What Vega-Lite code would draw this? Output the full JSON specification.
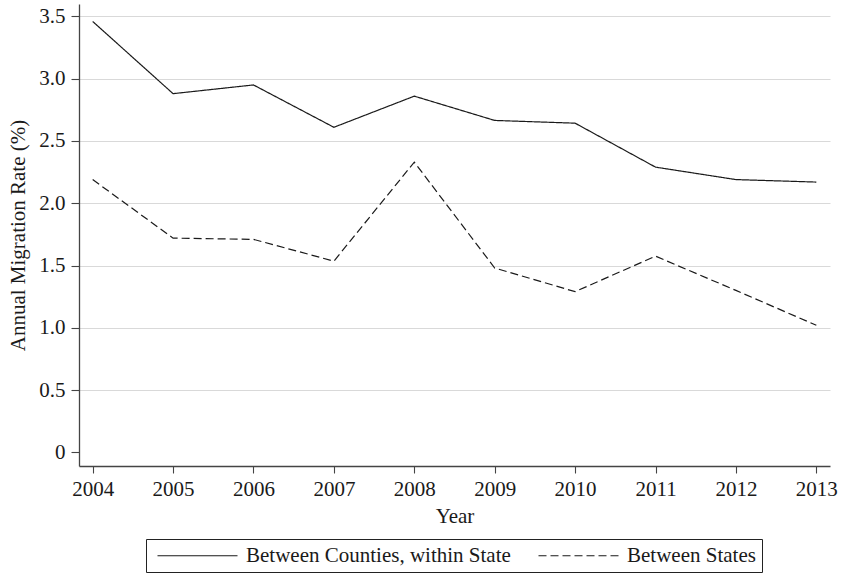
{
  "$schema": "https://vega.github.io/schema/vega-lite/v6.json",
  "width": 751,
  "height": 462,
  "autosize": {"type": "none"},
  "padding": {"left": 79, "top": 4, "right": 11, "bottom": 107},
  "background": "white",
  "config": {
    "view": {"stroke": null},
    "font": "Liberation Serif",
    "axis": {
      "labelFont": "Liberation Serif",
      "titleFont": "Liberation Serif",
      "labelFontSize": 21,
      "titleFontSize": 21,
      "titleFontWeight": "normal",
      "labelColor": "#1a1a1a",
      "titleColor": "#1a1a1a",
      "domainColor": "#444444",
      "tickColor": "#444444",
      "domainWidth": 1.3,
      "tickWidth": 1.1
    },
    "legend": {
      "labelFont": "Liberation Serif",
      "labelFontSize": 21,
      "labelColor": "#1a1a1a"
    }
  },
  "data": {
    "values": [
      {"year": 2004, "series": "Between Counties, within State", "rate": 3.46},
      {"year": 2005, "series": "Between Counties, within State", "rate": 2.88},
      {"year": 2006, "series": "Between Counties, within State", "rate": 2.95},
      {"year": 2007, "series": "Between Counties, within State", "rate": 2.61},
      {"year": 2008, "series": "Between Counties, within State", "rate": 2.86},
      {"year": 2009, "series": "Between Counties, within State", "rate": 2.665},
      {"year": 2010, "series": "Between Counties, within State", "rate": 2.643},
      {"year": 2011, "series": "Between Counties, within State", "rate": 2.29},
      {"year": 2012, "series": "Between Counties, within State", "rate": 2.19},
      {"year": 2013, "series": "Between Counties, within State", "rate": 2.17},
      {"year": 2004, "series": "Between States", "rate": 2.19},
      {"year": 2005, "series": "Between States", "rate": 1.72},
      {"year": 2006, "series": "Between States", "rate": 1.71},
      {"year": 2007, "series": "Between States", "rate": 1.535},
      {"year": 2008, "series": "Between States", "rate": 2.33},
      {"year": 2009, "series": "Between States", "rate": 1.48},
      {"year": 2010, "series": "Between States", "rate": 1.29},
      {"year": 2011, "series": "Between States", "rate": 1.575},
      {"year": 2012, "series": "Between States", "rate": 1.3},
      {"year": 2013, "series": "Between States", "rate": 1.02}
    ]
  },
  "mark": {"type": "line", "color": "#1a1a1a", "strokeWidth": 1.2},
  "encoding": {
    "x": {
      "field": "year",
      "type": "quantitative",
      "scale": {"domain": [2003.83, 2013.17], "nice": false, "zero": false},
      "axis": {
        "title": "Year",
        "values": [2004, 2005, 2006, 2007, 2008, 2009, 2010, 2011, 2012, 2013],
        "format": "d",
        "grid": false,
        "tickSize": 7,
        "labelPadding": 5,
        "titlePadding": 6,
        "labelFlush": false
      }
    },
    "y": {
      "field": "rate",
      "type": "quantitative",
      "scale": {"domain": [-0.11, 3.6], "nice": false, "zero": false},
      "axis": {
        "title": "Annual Migration Rate (%)",
        "values": [0, 0.5, 1, 1.5, 2, 2.5, 3, 3.5],
        "labelExpr": "datum.value == 0 ? '0' : format(datum.value, '.1f')",
        "grid": true,
        "gridColor": "#d9d9d9",
        "gridWidth": 1.2,
        "gridOpacity": {"condition": {"test": "datum.value == 0", "value": 0}, "value": 1},
        "tickSize": 8,
        "labelPadding": 6,
        "titlePadding": 10,
        "labelFlush": false
      }
    },
    "strokeDash": {
      "field": "series",
      "type": "nominal",
      "scale": {
        "domain": ["Between Counties, within State", "Between States"],
        "range": [[1, 0], [8, 4]]
      },
      "legend": {
        "title": null,
        "orient": "none",
        "direction": "horizontal",
        "legendX": 67,
        "legendY": 535,
        "strokeColor": "#222222",
        "padding": 6,
        "symbolType": "M-8,0L8,0",
        "symbolSize": 100,
        "symbolOffset": 35,
        "symbolStrokeWidth": 1.2,
        "symbolStrokeColor": "#1a1a1a",
        "labelOffset": 38,
        "labelLimit": 500,
        "columnPadding": 22
      }
    }
  }
}
